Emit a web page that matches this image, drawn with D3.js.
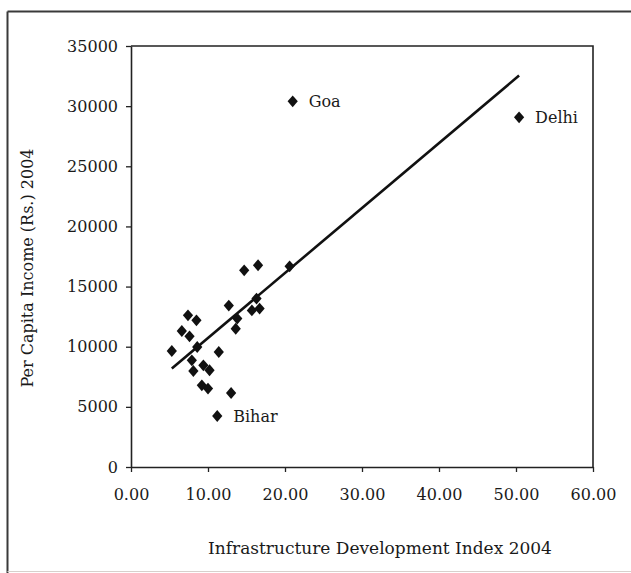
<!DOCTYPE html>
<html>
<head>
<meta charset="utf-8">
<script src="https://cdn.jsdelivr.net/npm/d3@7"></script>
<style>
  html, body { margin: 0; padding: 0; background: #fff; }
  svg { display: block; }
  text { font-family: "DejaVu Serif", "Liberation Serif", serif; fill: #1a1a1a; }
</style>
</head>
<body>
<svg id="chart" width="631" height="573"></svg>
<script>
// Infrastructure development index vs. per capita income, states of India, 2004
const states = ["", "", "", "", "", "", "", "", "", "", "", "", "", "", "", "", "", "", "", "", "", "", "", "Bihar", "Goa", "Delhi"];
const infraIndex = [14.7, 16.5, 20.6, 12.7, 16.3, 15.7, 16.7, 13.8, 13.6, 7.4, 8.5, 6.6, 7.6, 5.3, 8.6, 11.4, 7.9, 8.1, 9.4, 10.2, 9.2, 10.0, 13.0, 11.2, 21.0, 50.4];
const income = [16350, 16770, 16680, 13420, 14000, 13020, 13170, 12340, 11490, 12610, 12190, 11310, 10860, 9640, 9980, 9560, 8870, 7980, 8450, 8040, 6790, 6520, 6150, 4240, 30400, 29070];

// Fitted linear trend: income = trendIntercept + trendSlope * index
const trendIntercept = 5330;
const trendSlope = 540;

const xTicks = [0, 10, 20, 30, 40, 50, 60];
const yTicks = [0, 5000, 10000, 15000, 20000, 25000, 30000, 35000];

const svg = d3.select("#chart");
const plotLeft = 131, plotRight = 593, plotTop = 46, plotBottom = 467;

const x = d3.scaleLinear().domain([0, 60]).range([plotLeft, plotRight]);
const y = d3.scaleLinear().domain([0, 35000]).range([plotBottom, plotTop]);

// outer frame (top and left edges, faint bottom edge)
svg.append("line").attr("x1", 7.5).attr("x2", 631).attr("y1", 11.5).attr("y2", 11.5)
  .attr("stroke", "#3a3a3a").attr("stroke-width", 2);
svg.append("line").attr("x1", 7.5).attr("x2", 7.5).attr("y1", 11.5).attr("y2", 573)
  .attr("stroke", "#3a3a3a").attr("stroke-width", 2);
svg.append("line").attr("x1", 7.5).attr("x2", 631).attr("y1", 571.5).attr("y2", 571.5)
  .attr("stroke", "#d8d0cc").attr("stroke-width", 1);

// plot box: top and right edges
svg.append("path")
  .attr("d", `M${plotLeft},${plotTop}H${plotRight}V${plotBottom}`)
  .attr("fill", "none").attr("stroke", "#222").attr("stroke-width", 1.6);

// axes
const xAxis = d3.axisBottom(x).tickValues(xTicks).tickFormat(d3.format(".2f")).tickSizeInner(5).tickSizeOuter(0).tickPadding(17);
const yAxis = d3.axisLeft(y).tickValues(yTicks).tickFormat(d3.format("d")).tickSizeInner(5).tickSizeOuter(0).tickPadding(8);

const gx = svg.append("g").attr("transform", `translate(0,${plotBottom})`).call(xAxis);
const gy = svg.append("g").attr("transform", `translate(${plotLeft},0)`).call(yAxis);

[gx, gy].forEach(g => {
  g.select(".domain").attr("stroke", "#222").attr("stroke-width", 1.6);
  g.selectAll(".tick line").attr("stroke", "#222").attr("stroke-width", 1.3);
  g.selectAll(".tick text").attr("font-size", 16).attr("font-family", "DejaVu Serif").attr("fill", "#1a1a1a");
});

// trend line across the range of the data
const xr = d3.extent(infraIndex);
svg.append("line")
  .attr("x1", x(xr[0])).attr("y1", y(trendIntercept + trendSlope * xr[0]))
  .attr("x2", x(xr[1])).attr("y2", y(trendIntercept + trendSlope * xr[1]))
  .attr("stroke", "#111").attr("stroke-width", 2.6);

// diamond markers
const points = infraIndex.map((v, i) => ({ x: v, y: income[i], name: states[i] }));
const diamond = d3.symbol().type(d3.symbolSquare).size(58);
svg.append("g").selectAll("path")
  .data(points)
  .join("path")
  .attr("d", diamond)
  .attr("transform", d => `translate(${x(d.x)},${y(d.y)}) scale(0.95,1.1) rotate(45)`)
  .attr("fill", "#111");

// state labels
svg.append("g").selectAll("text")
  .data(points.filter(d => d.name))
  .join("text")
  .attr("x", d => x(d.x) + 16)
  .attr("y", d => y(d.y) + 6)
  .attr("font-size", 16)
  .text(d => d.name);

// axis titles
svg.append("text")
  .attr("x", 380).attr("y", 554)
  .attr("text-anchor", "middle").attr("font-size", 17)
  .text("Infrastructure Development Index 2004");

svg.append("text")
  .attr("transform", "translate(33,268) rotate(-90)")
  .attr("text-anchor", "middle").attr("font-size", 16)
  .text("Per Capita Income (Rs.) 2004");
</script>
</body>
</html>
